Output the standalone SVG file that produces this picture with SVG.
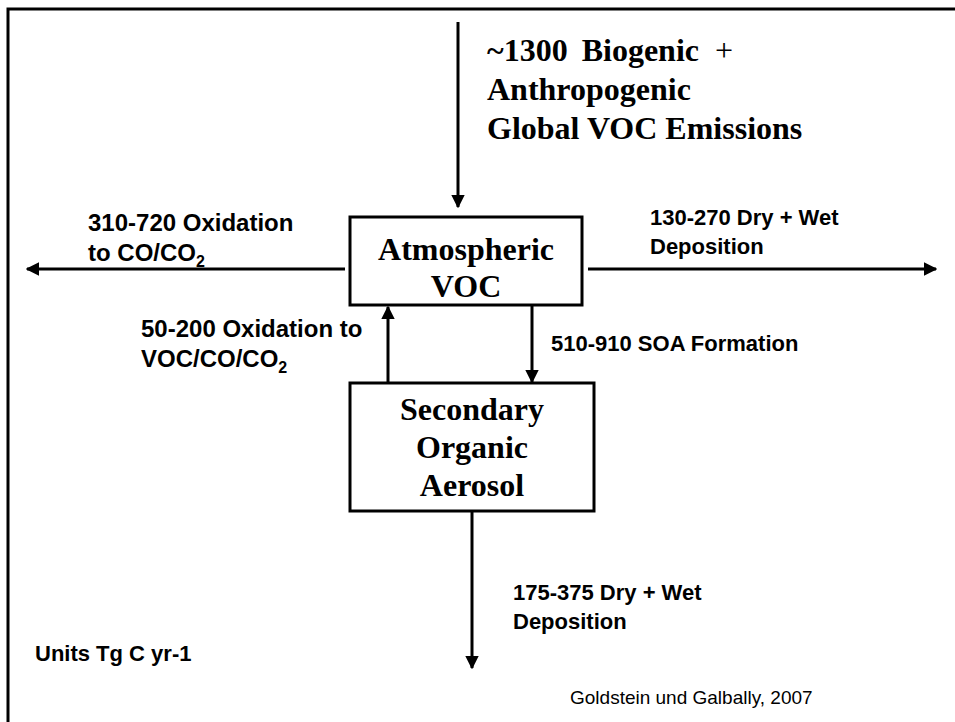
<svg xmlns="http://www.w3.org/2000/svg" width="955" height="722" viewBox="0 0 955 722">
  <style>
    .serif { font-family: "Liberation Serif", "Times New Roman", serif; font-weight: bold; font-size: 32px; fill: #000; }
    .lbl { font-family: "Liberation Sans", Arial, sans-serif; font-weight: bold; font-size: 22px; fill: #000; }
    .big { font-size: 24px; }
    .ref { font-family: "Liberation Sans", Arial, sans-serif; font-size: 19px; fill: #000; }
    .box { fill: #fff; stroke: #000; stroke-width: 3; }
    .flow { fill: none; stroke: #000; stroke-width: 3; marker-end: url(#head); }
  </style>
  <defs>
    <marker id="head" viewBox="0 0 10 10" refX="9" refY="5" markerWidth="4.5" markerHeight="4.5" markerUnits="strokeWidth" orient="auto">
      <path d="M0,0 L10,5 L0,10 Z" fill="#000"/>
    </marker>
  </defs>

  <!-- page frame -->
  <path d="M8,722 V9 H955" fill="none" stroke="#000" stroke-width="3"/>

  <!-- flows between reservoirs -->
  <g id="connectors">
    <line class="flow" x1="458" y1="22" x2="458" y2="207"/>
    <line class="flow" x1="345" y1="269" x2="27" y2="269"/>
    <line class="flow" x1="588" y1="269" x2="936" y2="269"/>
    <line class="flow" x1="532" y1="306" x2="532" y2="382"/>
    <line class="flow" x1="388" y1="383" x2="388" y2="307"/>
    <line class="flow" x1="472" y1="511" x2="472" y2="668"/>
  </g>

  <g id="emissions">
    <text class="serif" x="487" y="61">~1300 <tspan dx="6">Biogenic</tspan> <tspan dx="8" font-weight="normal">+</tspan></text>
    <text class="serif" x="487" y="100">Anthropogenic</text>
    <text class="serif" x="487" y="139">Global VOC Emissions</text>
  </g>

  <g id="atmospheric-voc">
    <rect class="box" x="350" y="217" width="232" height="88"/>
    <text class="serif" x="466" y="260" text-anchor="middle">Atmospheric</text>
    <text class="serif" x="466" y="297" text-anchor="middle">VOC</text>
  </g>

  <g id="soa">
    <rect class="box" x="350" y="383" width="244" height="128"/>
    <text class="serif" x="472" y="420" text-anchor="middle">Secondary</text>
    <text class="serif" x="472" y="458" text-anchor="middle">Organic</text>
    <text class="serif" x="472" y="496" text-anchor="middle">Aerosol</text>
  </g>

  <g id="labels">
    <text class="lbl big" x="88" y="231">310-720 Oxidation</text>
    <text class="lbl big" x="88" y="261">to CO/CO<tspan font-size="16" dy="6">2</tspan></text>
    <text class="lbl" x="650" y="225">130-270 Dry + Wet</text>
    <text class="lbl" x="650" y="254">Deposition</text>
    <text class="lbl big" x="141" y="337">50-200 Oxidation to</text>
    <text class="lbl big" x="141" y="367">VOC/CO/CO<tspan font-size="16" dy="6">2</tspan></text>
    <text class="lbl" x="551" y="351">510-910 SOA Formation</text>
    <text class="lbl" x="513" y="600">175-375 Dry + Wet</text>
    <text class="lbl" x="513" y="629">Deposition</text>
    <text class="lbl" x="35" y="661">Units Tg C yr-1</text>
    <text class="ref" x="570" y="704">Goldstein und Galbally, 2007</text>
  </g>
</svg>
